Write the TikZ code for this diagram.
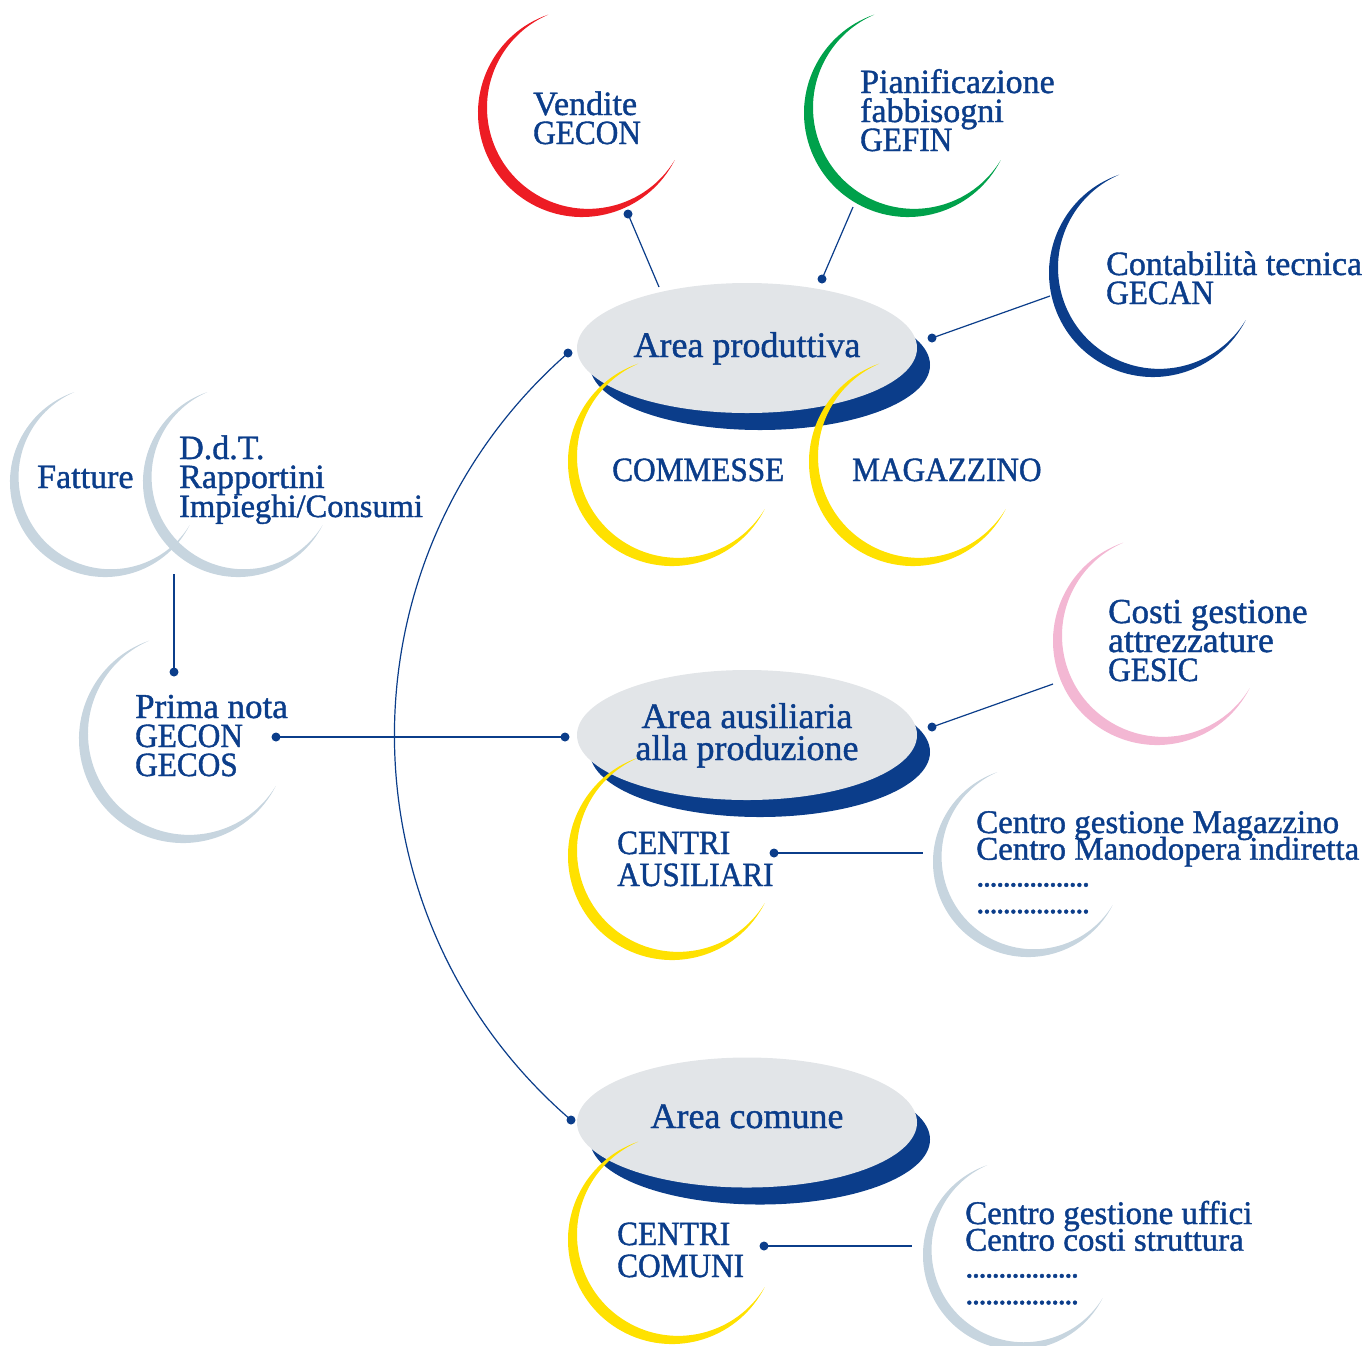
\documentclass[tikz,border=0pt]{standalone}
\usepackage{fontspec}
\setmainfont{Liberation Serif}[FakeBold=1.2]
\newfontfamily\capsf{Liberation Serif}[FakeStretch=0.92,FakeBold=1.2]
\newfontfamily\dotsf{Liberation Serif}[LetterSpace=-5,FakeBold=1.2]
\lineskiplimit=-100pt
\definecolor{navy}{HTML}{0B3D8A}
\definecolor{cred}{HTML}{ED1C24}
\definecolor{cgreen}{HTML}{00A14B}
\definecolor{cyellow}{HTML}{FFE100}
\definecolor{cpink}{HTML}{F3B7D3}
\definecolor{cgray}{HTML}{C7D5DF}
\definecolor{ellgray}{HTML}{E2E5E8}
% crescent: outer circle R, tips at math angles 109 and -27,
% inner circle radius r (offset up-right)
\newcommand{\bigcrescent}[3]{%
  \fill[#3] ($(#1,#2)+(-109:104)$)
    arc[start angle=-109, end angle=-333, radius=104]
    arc[start angle=-328.7, end angle=-113.3, radius=101.2] -- cycle;}
\newcommand{\smallcrescent}[3]{%
  \fill[#3] ($(#1,#2)+(-109:95)$)
    arc[start angle=-109, end angle=-333, radius=95]
    arc[start angle=-328.5, end angle=-113.5, radius=92.34] -- cycle;}
\newcommand{\areaellipse}[2]{%
  \fill[navy] (#1+13,#2+17) ellipse[x radius=170, y radius=65];
  \fill[ellgray] (#1,#2) ellipse[x radius=170, y radius=65];}
\usetikzlibrary{calc}
\tikzset{
  lbl/.style={inner sep=0pt, anchor=base west, text=navy,
    font=\fontsize{34}{29}\selectfont},
  ctrlbl/.style={lbl, font=\fontsize{33}{26.7}\selectfont},
  capslbl/.style={lbl, font=\capsf\fontsize{34}{32}\selectfont},
  arealbl/.style={inner sep=0pt, anchor=base, text=navy,
    font=\fontsize{36}{32}\selectfont},
  dotnode/.style={circle, fill=navy, inner sep=0pt, minimum size=9pt},
  conn/.style={draw=navy, line width=1.2pt},
}
\begin{document}
\begin{tikzpicture}[x=1pt,y=-1pt]
\useasboundingbox (0,0) rectangle (1372,1345);
% outer crescents
\bigcrescent{582}{113}{cred}
\bigcrescent{908}{113}{cgreen}
\bigcrescent{1153}{273}{navy}
\bigcrescent{1157}{641}{cpink}
\smallcrescent{1028}{862}{cgray}
\smallcrescent{1018}{1255}{cgray}
\smallcrescent{105}{482}{cgray}
\smallcrescent{238}{482}{cgray}
\bigcrescent{183}{739}{cgray}
% area ellipses
\areaellipse{747}{348}
\areaellipse{747}{735}
\areaellipse{747}{1122.5}
% yellow crescents
\bigcrescent{672}{462}{cyellow}
\bigcrescent{913}{462}{cyellow}
\bigcrescent{672}{856}{cyellow}
\bigcrescent{672}{1240}{cyellow}
% connector end points
\coordinate (e1) at (659,287);
\coordinate (e2) at (853,207);
\coordinate (e3) at (1050,296);
\coordinate (e4) at (1053,684);
\coordinate (e5) at (923,853);
\coordinate (e6) at (912,1246);
\coordinate (e7) at (174,574);
\node[dotnode] (d1) at (628,214) {};
\node[dotnode] (d2) at (822,279) {};
\node[dotnode] (d3) at (932,338) {};
\node[dotnode] (d4) at (932,727) {};
\node[dotnode] (d5) at (774,853) {};
\node[dotnode] (d6) at (764,1246) {};
\node[dotnode] (d7) at (174,672) {};
\node[dotnode] (d8) at (276,737) {};
\node[dotnode] (d9) at (565,737) {};
\node[dotnode] (d10) at (568,353) {};
\node[dotnode] (d11) at (571,1120) {};
\draw[conn] (d1.center) -- (e1);
\draw[conn] (e2) -- (d2.center);
\draw[conn] (e3) -- (d3.center);
\draw[conn] (e4) -- (d4.center);
\draw[conn] (d5.center) -- (e5);
\draw[conn] (d6.center) -- (e6);
\draw[conn] (e7) -- (d7.center);
\draw[conn] (d8.center) -- (d9.center);
\draw[conn] (d10.center) to[bend right=49, looseness=1.03] (d11.center);
% labels
\node[lbl] (vendite) at (533,115) {\vtop{\hbox{Vendite}\hbox{\capsf GECON}}};
\node[lbl] (pianif) at (860,93) {\vtop{\hbox{Pianificazione}\hbox{fabbisogni}\hbox{\capsf GEFIN}}};
\node[lbl] (contab) at (1106,275) {\vtop{\hbox{Contabilità tecnica}\hbox{\capsf GECAN}}};
\node[lbl] (costi) at (1108,623) {\vtop{\hbox{\fontsize{35}{29}\selectfont Costi gestione}\hbox{\fontsize{35.5}{29}\selectfont attrezzature}\hbox{\capsf GESIC}}};
\node[lbl] (fatture) at (37,488) {Fatture};
\node[lbl] (ddt) at (179,459) {\vtop{\hbox{D.d.T.}\hbox{Rapportini}\hbox{\fontsize{32.5}{29}\selectfont Impieghi/Consumi}}};
\node[lbl] (prima) at (135,718) {\vtop{\hbox{\fontsize{35}{29}\selectfont Prima nota}\hbox{\capsf GECON}\hbox{\capsf GECOS}}};
\node[arealbl] (aprod) at (747,357) {Area produttiva};
\node[arealbl] (aaus) at (747,728) {\vtop{\hbox to 0pt{\hss Area ausiliaria\hss}\hbox to 0pt{\hss alla produzione\hss}}};
\node[arealbl] (acom) at (747,1128) {Area comune};
\node[capslbl] (commesse) at (612,481) {COMMESSE};
\node[capslbl] (magazz) at (852,481) {MAGAZZINO};
\node[capslbl] (caus) at (617,854) {\vtop{\hbox{CENTRI}\hbox{AUSILIARI}}};
\node[capslbl] (ccom) at (617,1245) {\vtop{\hbox{CENTRI}\hbox{COMUNI}}};
\node[ctrlbl] (cmag) at (976,833) {\vtop{\hbox{Centro gestione Magazzino}\hbox{Centro Manodopera indiretta}\hbox{\dotsf .................}\hbox{\dotsf .................}}};
\node[ctrlbl] (cuff) at (965,1224) {\vtop{\hbox{Centro gestione uffici}\hbox{Centro costi struttura}\hbox{\dotsf .................}\hbox{\dotsf .................}}};
\end{tikzpicture}
\end{document}
